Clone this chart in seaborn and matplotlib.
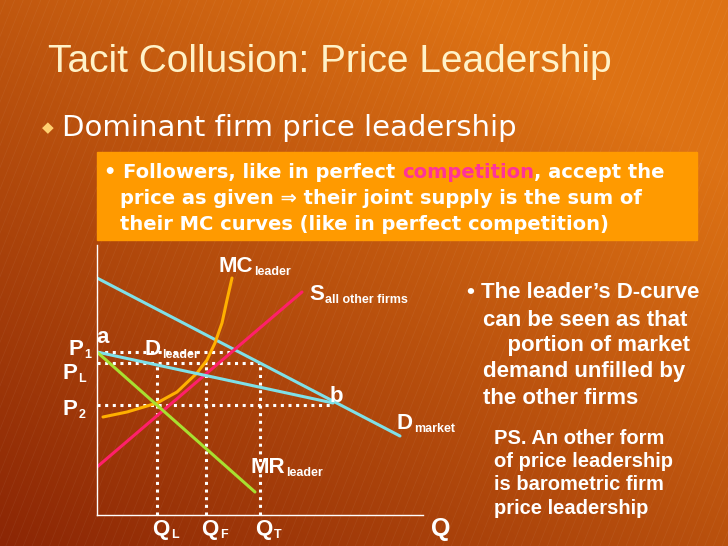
import numpy as np
import matplotlib.pyplot as plt
import seaborn as sns
from matplotlib.patches import Rectangle

sns.set_style("white")
plt.rcParams['font.family'] = ['Liberation Sans', 'DejaVu Sans']

# curve data (quantity, price) in chart units
d_market_q = [0, 303]
d_market_p = [237, 79]
s_other_q = [0, 205]
s_other_p = [48, 223]
mc_q = [6, 30, 60, 80, 100, 110, 118, 125, 130, 135]
mc_p = [98, 103, 112, 123, 142, 155, 172, 192, 215, 237]
d_leader_q = [0, 236]
d_leader_p = [163, 112]
mr_q = [0, 158]
mr_p = [163, 23]
p1, pl, p2 = 163, 152, 110
ql, qf, qt = 60, 109, 163
p1_end, p2_end = 133, 236

fig = plt.figure(figsize=(7.28, 5.46), dpi=100)

# background gradient
bg = fig.add_axes([0, 0, 1, 1])
xx, yy = np.meshgrid(np.linspace(0, 1, 200), np.linspace(0, 1, 200))
t = np.clip(0.55 * xx + 0.65 * yy, 0, 1)
c0 = np.array([0.55, 0.15, 0.02])
c1 = np.array([0.87, 0.45, 0.08])
img = c0 + (c1 - c0) * t[..., None]
bg.imshow(img, origin='lower', extent=[0, 1, 0, 1], aspect='auto')
for k in np.arange(-1, 2, 0.012):
    bg.plot([k, k + 0.3], [0, 1.0], color='white', alpha=0.05, lw=0.6)
bg.set_xlim(0, 1)
bg.set_ylim(0, 1)
bg.axis('off')

W, H = 728, 546
def fx(px): return px / W
def fy(py): return 1 - py / H

def chain(prev, s, **kw):
    # place text right after a previous text
    return bg.annotate(s, xy=(1, 0), xycoords=prev, va='bottom', **kw)

fig.text(fx(48), fy(62), "Tacit Collusion: Price Leadership", fontsize=28,
         color='#FFF2C8', va='center')
fig.text(fx(42), fy(128), "\u25c6", fontsize=11, color='#FFD070', va='center')
fig.text(fx(62), fy(128), "Dominant firm price leadership", fontsize=21,
         color='white', va='center', family=['DejaVu Sans'])
bg.add_patch(Rectangle((fx(97), fy(240)), fx(697) - fx(97), fy(152) - fy(240),
                       color='#FF9A00', zorder=2))
tx = dict(fontsize=14, color='white', fontweight='bold',
          family=['DejaVu Sans'])
t1 = fig.text(fx(104), fy(182), "\u2022 Followers, like in perfect ", va='bottom', **tx)
t2 = chain(t1, "competition", **{**tx, 'color': '#FF3399'})
chain(t2, ", accept the", **tx)
fig.text(fx(120), fy(198), "price as given \u21d2 their joint supply is the sum of",
         va='center', **tx)
fig.text(fx(120), fy(224), "their MC curves (like in perfect competition)",
         va='center', **tx)

rt = dict(fontsize=16, color='white', fontweight='bold', va='center')
fig.text(fx(467), fy(293), "\u2022 The leader\u2019s D-curve", **rt)
fig.text(fx(483), fy(320), "can be seen as that", **rt)
fig.text(fx(483), fy(346), "    portion of market", **rt)
fig.text(fx(483), fy(372), "demand unfilled by", **rt)
fig.text(fx(483), fy(398), "the other firms", **rt)
pt = dict(fontsize=14.5, color='white', fontweight='bold', va='center')
for i, s in enumerate(["PS. An other form", "of price leadership",
                       "is barometric firm", "price leadership"]):
    fig.text(fx(494), fy(438 + i * 23.5), s, **pt)

# chart axes: origin at px (97,515), 1 unit = 1 px
ax = fig.add_axes([fx(97), fy(515), (430 - 97) / W, (515 - 245) / H])
ax.set_xlim(0, 333)
ax.set_ylim(0, 270)
ax.patch.set_alpha(0)
for s in ['top', 'right']:
    ax.spines[s].set_visible(False)
for s in ['left', 'bottom']:
    ax.spines[s].set_color('white')
    ax.spines[s].set_linewidth(1)
ax.spines['bottom'].set_bounds(0, 326)
ax.set_xticks([])
ax.set_yticks([])

dot = dict(color='white', ls=(0, (1, 1.5)), lw=2.2)
ax.plot([0, p1_end], [p1, p1], **dot)
ax.plot([0, qt], [pl, pl], **dot)
ax.plot([0, p2_end], [p2, p2], **dot)
for q in (ql, qf, qt):
    ax.plot([q, q], [0, pl], **dot)

sns.lineplot(x=d_market_q, y=d_market_p, ax=ax, color='#7FE0E8', lw=2.2)
sns.lineplot(x=s_other_q, y=s_other_p, ax=ax, color='#FF1F6A', lw=2.2)
ax.plot(mc_q, mc_p, color='#FFB000', lw=2.2)
sns.lineplot(x=d_leader_q, y=d_leader_p, ax=ax, color='#7FE0E8', lw=2.2)
sns.lineplot(x=mr_q, y=mr_p, ax=ax, color='#A8E030', lw=2.2)

lab = dict(color='white', fontweight='bold', fontsize=16)
sub = dict(color='white', fontweight='bold', fontsize=9)
def sublabel(x, y, big, small):
    t0 = ax.text(x, y, big, va='baseline', clip_on=False, **lab)
    ax.annotate(small, xy=(1, 0), xycoords=t0, xytext=(1, -1),
                textcoords='offset points', va='bottom', annotation_clip=False, **sub)

sublabel(121, 243, "MC", "leader")
sublabel(212, 215, "S", "all other firms")
sublabel(48, 160, "D", "leader")
sublabel(300, 86, "D", "market")
sublabel(153, 42, "MR", "leader")
sublabel(-29, 160, "P", "1")
sublabel(-35, 136, "P", "L")
sublabel(-35, 100, "P", "2")
ax.text(-1, 172, "a", clip_on=False, **lab)
ax.text(233, 113, "b", clip_on=False, **lab)
sublabel(ql - 5, -20, "Q", "L")
sublabel(qf - 5, -20, "Q", "F")
sublabel(qt - 5, -20, "Q", "T")
ax.text(334, -21, "Q", clip_on=False, color='white', fontweight='bold', fontsize=18)

fig.savefig("out.png", dpi=100)
